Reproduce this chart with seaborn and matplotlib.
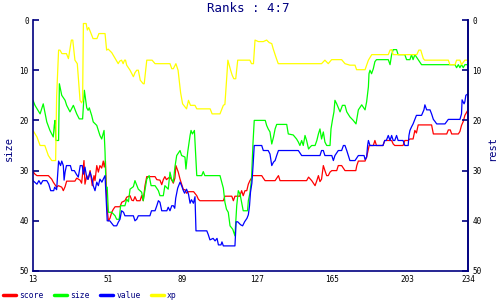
import matplotlib
matplotlib.use("Agg")
import matplotlib.pyplot as plt
import seaborn as sns
import pandas as pd

# ---- data (ranks; lower rank = better, axis inverted) ----
score_x = [13, 14, 15, 20.8, 22.5, 23.3, 25, 25.9, 27.6, 28.4, 29.3, 30.1, 34.3, 35.2, 36.9, 37.7,
           38.9, 39.4, 40.3, 41.1, 42, 42.4, 43.1, 44, 44.5, 45.4, 46.2, 47, 47.9, 48.7, 49.2, 49.8,
           50.3, 50.8, 51.3, 52.1, 53, 53.8, 54.7, 57.2, 58.1, 59.7, 60.6, 62.3, 63.2, 64, 64.8, 65.7,
           67.4, 68.2, 69, 69.9, 70.8, 75, 75.9, 77.5, 78.4, 79.2, 80, 80.8, 81.7, 82.6, 83.5, 84.3,
           85.1, 85.6, 86.8, 87.7, 88.5, 89.4, 90.2, 91, 92, 94.6, 96.2, 97, 97.8, 109.7, 110.5, 114,
           114.8, 115.6, 118, 119, 119.8, 120.7, 121.6, 122.4, 123.2, 124, 124.4, 129.2, 130, 130.9,
           136, 137.7, 138.5, 152, 153, 154.6, 156.3, 157.2, 158, 158.8, 159.6, 160.5, 161.3, 162.2,
           163, 163.9, 164.8, 167.3, 168.1, 169.8, 171.5, 177, 177.5, 178.3, 181.7, 182.5, 183.4,
           183.8, 185.9, 186.7, 187.5, 190.8, 191.7, 195.2, 196, 196.8, 201, 201.9, 203.6, 204.5,
           206.1, 207, 207.8, 208.7, 215.5, 216.4, 223.2, 224, 225, 225.7, 229.1, 229.9, 230.7,
           231.6, 232.4, 234]
score_y = [30.2, 30.7, 31, 31, 31.7, 32.3, 33.3, 33, 33.3, 34, 33.2, 32.1, 32.1, 31.5, 31.9, 32.5,
           28, 32.7, 31, 31.7, 30, 31, 33, 31, 32, 29, 30.3, 29, 29.5, 28.1, 29.3, 28.1,
           34, 38, 40, 39.5, 38.3, 37.7, 37.2, 37.2, 36.3, 36, 35.3, 35, 35.9, 36, 35.2, 36,
           36, 35, 36, 33, 31.2, 31.2, 31.8, 31.9, 32.8, 31.8, 31.2, 31.8, 31.5, 31.3, 31.9, 32.5,
           31.5, 29, 30.3, 31.7, 32.7, 33.8, 33.8, 34.5, 34.2, 34.2, 35, 35.7, 36, 36, 35.1, 35.1,
           36, 35.1, 35.1, 34, 35, 34, 34, 32.7, 32, 31.5, 31, 31, 31.5, 32,
           32, 31, 32, 32, 31.3, 32, 33, 32, 31, 32.2, 31.7, 29, 30, 31,
           31, 30.3, 30, 30, 29, 29, 30, 30, 29, 28.1, 28.1, 27.3, 25.7,
           25, 25, 24, 25, 25, 24, 24, 24.7, 25, 25, 24, 24, 23.7,
           23.7, 22, 22.5, 20.9, 20.9, 22.7, 22.7, 21.9, 21.9, 22.7, 22.7, 22.2, 21,
           20.2, 19, 17.9]

size_x = [13, 14, 16.6, 18.2, 19, 20, 21.6, 23.3, 23.8, 24.2, 24.6, 26, 26.4, 27.6, 29.3, 30.1,
          31.8, 33.5, 34.3, 35.2, 36.5, 38.2, 39.1, 40.3, 41, 41.6, 42.8, 43.6, 45.4, 46.2, 47,
          47.9, 49.1, 49.6, 50.1, 50.7, 51.3, 53, 54.7, 55.5, 56.8, 57.5, 59.7, 60.6, 61.5, 62.3,
          64, 64.8, 66.5, 68.2, 69, 69.9, 70.8, 72, 73, 75, 76.7, 77.5, 79.2, 80, 81.7, 82.6,
          83.4, 84.3, 85.1, 86, 87.7, 88.5, 90.2, 90.7, 91.6, 92.8, 93.3, 94, 95, 95.3, 96.2,
          98.7, 99.5, 100.3, 108, 108.9, 109.7, 110.5, 111.3, 112.2, 113.1, 114.5, 115.6, 116.5,
          117.3, 118.2, 119, 119.8, 122, 122.4, 123.2, 124, 124.8, 125.4, 131, 131.7, 132.5,
          133.4, 134.3, 135.2, 136, 136.8, 141.9, 142.7, 145.2, 146.9, 147.8, 148.6, 149.5,
          150.3, 151.2, 152, 153, 153.8, 154.6, 156.3, 157.2, 158, 158.8, 159.6, 160.5, 161.3,
          162.2, 163.9, 164.4, 165.1, 165.9, 166.4, 167.3, 169, 170.2, 171.5, 172.4, 174, 175.7,
          177.1, 178.3, 180, 181.7, 182.5, 183.4, 183.7, 184.2, 185, 185.9, 186.7, 187.5, 193.5,
          194.4, 195.2, 196, 197.7, 198.5, 201.9, 202.8, 204.5, 205.3, 206.1, 207, 208.7, 210.4,
          227.4, 228.2, 229.1, 229.9, 230.7, 231.6, 232.4, 234]
size_y = [16, 17, 18.7, 16.7, 18.3, 20.3, 22, 23.3, 21, 20, 24, 24, 12.7, 15, 16, 17,
          18.3, 17, 17.8, 18.7, 19.7, 19.7, 14, 17.5, 18, 17.5, 19, 20.3, 21, 22, 23,
          23.7, 22, 26.3, 33.7, 33.3, 38.3, 38.3, 39, 39.7, 39.7, 37, 37, 35.7, 36.2, 33.7,
          33.2, 32, 33.7, 34.3, 36, 33.8, 31.7, 31, 33, 33, 34, 35, 35, 33, 33.7, 30.3,
          31.7, 32.3, 29.3, 27, 26, 27, 27.3, 29.7, 26.3, 23, 22, 22.7, 22, 24.3, 31,
          31, 30.2, 31, 31, 32.3, 33.5, 36.3, 37.7, 38.3, 41, 41.7, 43, 37,
          34, 34.7, 36.3, 38, 38, 36, 34.5, 31.7, 24.3, 20, 20, 21, 21.7,
          22.3, 24.7, 23.3, 21.7, 20.8, 20.8, 22.7, 22.9, 23.7, 24.3, 25, 24,
          25, 23, 24, 25.7, 25.3, 25, 25, 24, 22.7, 21.7, 23.7, 22.3, 24.3,
          25, 25, 21.7, 20, 18.3, 16, 16.7, 18.3, 17, 17, 18.3, 19.3, 20,
          20.7, 17.9, 16.9, 17.9, 16.3, 13.3, 10.7, 10, 10.7, 9.7, 8.3, 7.9, 7.9,
          8.9, 6.9, 5.9, 5.9, 6.9, 6.9, 7.9, 7.9, 6.9, 7.9, 6.9, 7.9, 8.9,
          8.9, 9.5, 8.9, 9.5, 8.9, 9.5, 8.9, 8.9]

value_x = [13, 15, 16, 17, 18, 20, 21, 22, 23.5, 24, 25, 26, 27, 27.6, 28.4, 28.8, 29.3, 30, 32,
           32.7, 34, 35, 36, 37, 38, 38.6, 39.4, 40, 40.6, 41, 42, 43, 43.6, 44.5, 45.4, 46.2, 47,
           48, 48.7, 49.6, 50.1, 50.7, 52, 53, 54, 55.5, 56.3, 57.2, 58, 59, 59.7, 64, 64.8, 65.7,
           66.5, 72.4, 73.2, 75, 75.9, 76.7, 77.5, 78.4, 81, 81.7, 82.6, 83.5, 84.3, 85, 85.5,
           86.5, 87.7, 88.5, 89.4, 90, 91, 92, 92.8, 93.5, 94.5, 95.3, 95.8, 101.3, 102, 102.9,
           104.5, 105.5, 106.5, 107.2, 108.5, 109, 109.7, 115.6, 116.2, 117, 118.5, 119.5, 120.5,
           121.7, 122.4, 123, 123.5, 124.2, 124.8, 125.4, 129.2, 130, 132.5, 133.4, 134.3, 135.2,
           136, 136.8, 137.7, 147.8, 149.5, 158.8, 159.6, 160.5, 161.3, 164.8, 165.6, 166.4,
           168.1, 169.8, 170.7, 171.5, 172.4, 174, 176.6, 178.3, 181.2, 181.7, 182.5, 183, 183.4,
           184.2, 190.8, 191.7, 192.5, 193.5, 194.4, 195.2, 196, 196.8, 197.7, 198.5, 201, 201.9,
           203.6, 204, 204.5, 205.3, 206.1, 207, 207.8, 210.4, 211.6, 212.1, 213, 214.7, 215.5,
           216.4, 217.2, 218.1, 222.3, 224, 229.9, 230.7, 231, 232, 232.4, 232.9, 234]
value_y = [32, 32.7, 32, 32.7, 32, 32, 32.7, 34, 34, 33.3, 33.8, 28.1, 29, 28.1, 29, 31.9, 30.3, 29, 29,
           30, 30, 30.7, 31.3, 29, 29, 30.7, 29.3, 30.7, 31.7, 31.7, 30.3, 31.7, 33, 34, 32.3, 33, 31.7,
           32.3, 31.7, 31, 35.3, 40, 40, 40.5, 41, 41, 40.3, 39.7, 38, 38.3, 39, 39, 40, 39.7,
           39, 39, 38, 38, 37, 36, 36.3, 38, 38, 37.3, 38, 37, 37, 37.5, 35.5,
           33.5, 32.3, 33, 34, 34.5, 33.7, 34.7, 36.5, 35.8, 36.5, 35.2, 42, 42, 42.7, 43.8,
           43.5, 44, 43.5, 44.8, 44.8, 44.2, 45, 45, 40.2, 40.2, 40.8, 41, 40.2,
           39.5, 38.8, 37, 34.3, 32.5, 29, 25, 25, 26, 26, 26.7, 29, 28.3,
           28, 27, 26, 26, 27, 27, 26, 26, 27, 27, 28, 27,
           26, 26, 25, 25, 26, 28, 28, 27, 27, 27.8, 27.3, 25, 24,
           25, 25, 24, 24, 23, 24, 23, 24, 24, 23, 24, 24, 25,
           25, 23, 22, 21.3, 20.7, 19.8, 19, 19, 17.9, 16.9, 17.9, 17.9, 18.7,
           19.8, 20.2, 20.7, 20.7, 19.8, 19.8, 18.7, 15.9, 16.7, 16.3, 15, 14.7]

xp_x = [13, 15, 16.6, 19, 20.8, 22.5, 24.5, 25, 26, 26.7, 27.7, 30, 31, 32.5, 33.2, 34.3, 35.5,
        36.9, 37.7, 38.2, 38.6, 40, 40.6, 41.3, 42.5, 43.5, 45.5, 46.5, 49.6, 50.4, 51.2, 53,
        54.5, 56.3, 57, 58, 58.8, 59.5, 60, 60.6, 62.3, 64, 64.8, 65.7, 66.5, 67.5, 69, 69.5,
        70.8, 73.5, 75, 82.6, 83.5, 84.3, 85.6, 86.7, 88, 89, 91, 92, 93, 95.3, 96.2, 103,
        104, 108, 109.7, 110.5, 111.5, 112, 113.4, 114.2, 115, 116, 117, 123.2, 124, 125,
        125.8, 127.5, 130, 131.7, 133, 134.3, 135, 136.5, 137.6, 159.6, 161.3, 163, 164.7,
        169.8, 171.5, 174, 176.6, 177.4, 181.7, 182.5, 183.4, 185.1, 193.5, 194.4, 195.2, 196,
        208, 209, 210, 211.3, 212, 224, 224.8, 227.4, 228.2, 229.9, 230.7, 232.4, 234]
xp_y = [22, 23.3, 25, 25, 27, 28, 28, 15.3, 6, 6, 6.7, 6.7, 7.7, 4, 4, 8, 8.7,
        16, 16.5, 16, 0.7, 0.7, 2, 1.5, 2.7, 3.7, 3.7, 2.7, 2.7, 6, 5.8, 6.5,
        7.5, 8.7, 8.2, 8, 8.7, 8, 8, 9, 10, 11.3, 10.5, 10, 10, 12, 12.7, 12.7,
        8, 8, 8.7, 8.7, 9.7, 9.7, 8.7, 10, 14.5, 16.7, 17.7, 16, 17, 17, 17.7, 17.7,
        18.7, 18.7, 17, 16.8, 11, 8, 10, 11, 11.7, 11.7, 8, 8, 8.7, 8.7,
        4, 4.3, 4.3, 4, 4.5, 4.7, 5.7, 7.5, 8.7, 8.7, 8, 8.7, 7.9,
        7.9, 8.7, 9, 9, 9.9, 9.9, 9, 8, 6.9, 6.9, 6, 5.9, 6.9,
        6.9, 6, 6, 7.7, 8, 8, 8.9, 8.9, 8, 8, 8.9, 8, 8]

series_names = ["score", "size", "value", "xp"]
series_colors = ["#ff0000", "#00ff00", "#0000ff", "#ffff00"]
x_ticks = [13, 51, 89, 127, 165, 203, 234]
y_ticks = [0, 10, 20, 30, 40, 50]
title_text = "Ranks : 4:7"
left_label = "size"
right_label = "rest"

# ---- build long-form table ----
frames = []
for name, xs, ys in zip(series_names,
                        [score_x, size_x, value_x, xp_x],
                        [score_y, size_y, value_y, xp_y]):
    frames.append(pd.DataFrame({"day": xs, "rank": ys, "series": name}))
df = pd.concat(frames, ignore_index=True)

NAVY = "#000080"
MONO = "DejaVu Sans Mono"

sns.set_theme(style="white")
plt.rcParams["font.family"] = [MONO]

fig = plt.figure(figsize=(5, 3), dpi=100)
ax = fig.add_axes([33 / 500, 1 - 271 / 300, (468 - 33) / 500, (271 - 20) / 300])

sns.lineplot(data=df, x="day", y="rank", hue="series", hue_order=series_names,
             palette=series_colors, estimator=None, sort=False, linewidth=0.9,
             legend=False, ax=ax)

ax.set_xlim(13, 234)
ax.set_ylim(50, 0)
ax.set_xticks(x_ticks)
ax.set_yticks(y_ticks)
ax.set_xlabel("")
ax.set_ylabel("")

for side in ["top"]:
    ax.spines[side].set_visible(False)
for side in ["left", "right", "bottom"]:
    ax.spines[side].set_color(NAVY)
    ax.spines[side].set_linewidth(1.2)

ax.tick_params(axis="both", direction="in", length=4, width=1.2, color=NAVY,
               labelsize=5.5, labelcolor="black", pad=3)
ax.tick_params(axis="x", pad=3)

ax2 = ax.twinx()
ax2.set_ylim(50, 0)
ax2.set_yticks(y_ticks)
for side in ["top", "left", "bottom"]:
    ax2.spines[side].set_visible(False)
ax2.spines["right"].set_color(NAVY)
ax2.spines["right"].set_linewidth(1.2)
ax2.tick_params(axis="y", direction="in", length=4, width=1.2, color=NAVY,
                labelsize=5.5, labelcolor="black", pad=3)
ax2.grid(False)
ax.grid(False)

fig.text(0.497, 1 - 8 / 300, title_text, ha="center", va="center",
         color=NAVY, fontsize=9, family=MONO)
fig.text(9 / 500, 1 - 148 / 300, left_label, rotation=90, ha="center", va="center",
         color=NAVY, fontsize=7.5, family=MONO)
fig.text(492 / 500, 1 - 148 / 300, right_label, rotation=90, ha="center", va="center",
         color=NAVY, fontsize=7.5, family=MONO)

handles = [plt.Line2D([], [], color=c, linewidth=2.5) for c in series_colors]
leg = fig.legend(handles, series_names, loc="center left",
                 bbox_to_anchor=(3 / 500, 1 - 295 / 300), ncol=4, frameon=False,
                 fontsize=5.8, handlelength=1.6, handletextpad=0.4,
                 columnspacing=1.3, borderpad=0, borderaxespad=0)
for t in leg.get_texts():
    t.set_color(NAVY)

fig.savefig("out.png", dpi=100, facecolor="white")
